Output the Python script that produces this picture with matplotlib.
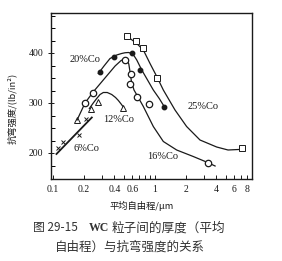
import matplotlib
matplotlib.use("Agg")
import matplotlib.pyplot as plt
from matplotlib.ticker import FixedLocator, NullFormatter, FixedFormatter

# ---- data ----
# 6%Co (x markers) and straight fitted line
co6_x = [0.113, 0.124, 0.18, 0.211]
co6_y = [210, 223, 236, 269]
co6_line_x = [0.108, 0.24]
co6_line_y = [198, 271]

# 12%Co (open triangles) and curve
co12_x = [0.173, 0.234, 0.278, 0.489]
co12_y = [267, 288, 303, 290]
co12_curve_x = [0.227, 0.248, 0.268, 0.289, 0.311, 0.34, 0.376, 0.41, 0.437, 0.465, 0.489]
co12_curve_y = [289, 300, 309, 317, 321, 321, 317, 311, 305, 298, 292]

# 16%Co (open circles) and curve
co16_x = [0.206, 0.245, 0.508, 0.578, 0.569, 0.662, 0.874, 3.28]
co16_y = [301, 321, 387, 359, 339, 313, 298, 181]
co16_curve_x = [0.172, 0.206, 0.245, 0.323, 0.406, 0.465, 0.505, 0.532, 0.553, 0.569, 0.588,
                0.622, 0.681, 0.768, 0.962, 1.206, 1.63, 2.37, 3.28, 3.88]
co16_curve_y = [266, 300, 321, 350, 374, 385, 388, 386, 378, 362, 342,
                326, 312, 293, 253, 223, 206, 193, 181, 174]

# 20%Co (filled dots) and curve
co20_x = [0.289, 0.399, 0.591, 0.713, 1.23]
co20_y = [363, 393, 401, 366, 293]
co20_curve_x = [0.278, 0.316, 0.362, 0.421, 0.47, 0.508, 0.55, 0.591, 0.625, 0.662, 0.741, 0.85, 0.962, 1.1, 1.23]
co20_curve_y = [359, 374, 389, 396, 399, 400.5, 401, 399, 394, 386, 366, 345, 326, 309, 293]

# 25%Co (open squares) and curve
co25_x = [0.528, 0.651, 0.757, 1.04, 7.08]
co25_y = [434, 425, 411, 350, 210]
co25_curve_x = [0.528, 0.569, 0.662, 0.768, 0.893, 1.04, 1.206, 1.57, 2.04, 2.76, 4.02, 5.2, 6.6]
co25_curve_y = [432, 429, 419, 406, 379, 353, 326, 286, 253, 226, 212, 206, 207]

x_ticks = [0.1, 0.2, 0.3, 0.4, 0.5, 0.6, 0.7, 0.8, 0.9, 1, 2, 3, 4, 5, 6, 7, 8]
x_tick_labels = ["0.1", "0.2", "", "0.4", "", "0.6", "", "", "", "1", "2", "", "4", "", "6", "", "8"]
y_ticks = [200, 300, 400]
y_minor = [175, 225, 250, 275, 325, 350, 375, 425, 450, 475]

labels = ["6%Co", "12%Co", "16%Co", "20%Co", "25%Co"]

# ---- drawing ----
plt.rcParams['font.family'] = ['Liberation Serif', 'DejaVu Serif']
cjk = ['Noto Sans CJK SC', 'DejaVu Sans']
ink = '#1a1a1a'

fig = plt.figure(figsize=(2.82, 2.61), dpi=100)
ax = fig.add_axes([51 / 282, 82 / 261, 201 / 282, 166 / 261])
ax.set_xscale('log')
ax.set_xlim(0.0955, 8.93)
ax.set_ylim(148, 480)

lw = 0.9
ax.plot(co6_line_x, co6_line_y, color=ink, lw=1.3)
ax.plot(co6_x, co6_y, ls='none', marker='x', ms=3.2, mew=0.7, color=ink)

ax.plot(co12_curve_x, co12_curve_y, color=ink, lw=lw)
ax.plot(co12_x, co12_y, ls='none', marker='^', ms=4, mfc='white', mew=0.7, color=ink)

ax.plot(co16_curve_x, co16_curve_y, color=ink, lw=lw)
ax.plot(co16_x, co16_y, ls='none', marker='o', ms=4.6, mfc='white', mew=0.9, color=ink)

ax.plot(co20_curve_x, co20_curve_y, color=ink, lw=lw)
ax.plot(co20_x, co20_y, ls='none', marker='o', ms=3.2, color=ink)

ax.plot(co25_curve_x, co25_curve_y, color=ink, lw=lw)
ax.plot(co25_x, co25_y, ls='none', marker='s', ms=4, mfc='white', mew=0.7, color=ink)

# annotations
ann = {"6%Co": (0.211, 209), "12%Co": (0.444, 268), "16%Co": (1.184, 193),
       "20%Co": (0.205, 386), "25%Co": (2.95, 293)}
for lab in labels:
    x, y = ann[lab]
    ax.text(x, y, lab, fontsize=7.5, ha='center', va='center', color=ink)

# ticks
ax.xaxis.set_major_locator(FixedLocator(x_ticks))
ax.xaxis.set_major_formatter(FixedFormatter(x_tick_labels))
ax.xaxis.set_minor_locator(FixedLocator([]))
ax.xaxis.set_minor_formatter(NullFormatter())
ax.yaxis.set_major_locator(FixedLocator(y_ticks))
ax.yaxis.set_minor_locator(FixedLocator(y_minor))
ax.tick_params(axis='x', which='major', direction='in', length=3, width=0.7,
               labelsize=7, pad=4, colors=ink)
ax.tick_params(axis='y', which='major', direction='inout', length=5, width=0.7,
               labelsize=7, pad=3, colors=ink)
ax.tick_params(axis='y', which='minor', direction='in', length=3, width=0.7)
for s in ax.spines.values():
    s.set_linewidth(1.0)
    s.set_color(ink)

fig.text(12 / 282, 1 - 108 / 261, "抗弯强度/(lb/in²)", rotation=90, ha='center', va='center',
         fontsize=6.7, family=cjk, color=ink)
fig.text(142 / 282, 1 - 205.5 / 261, "平均自由程/μm", ha='center', va='center',
         fontsize=6.7, family=cjk, color=ink)

# caption
fig.text(33 / 282, 1 - 228 / 261, "图 29-15", ha='left', va='center', fontsize=8.5,
         family=cjk, color='#333333')
fig.text(89 / 282, 1 - 228 / 261, "WC", ha='left', va='center', fontsize=8.5,
         fontweight='bold', color='#333333')
fig.text(112 / 282, 1 - 228 / 261, "粒子间的厚度（平均", ha='left', va='center', fontsize=9.1,
         family=cjk, color='#333333')
fig.text(55 / 282, 1 - 247 / 261, "自由程）与抗弯强度的关系", ha='left', va='center', fontsize=9,
         family=cjk, color='#333333')

fig.savefig("out.png", dpi=100)
